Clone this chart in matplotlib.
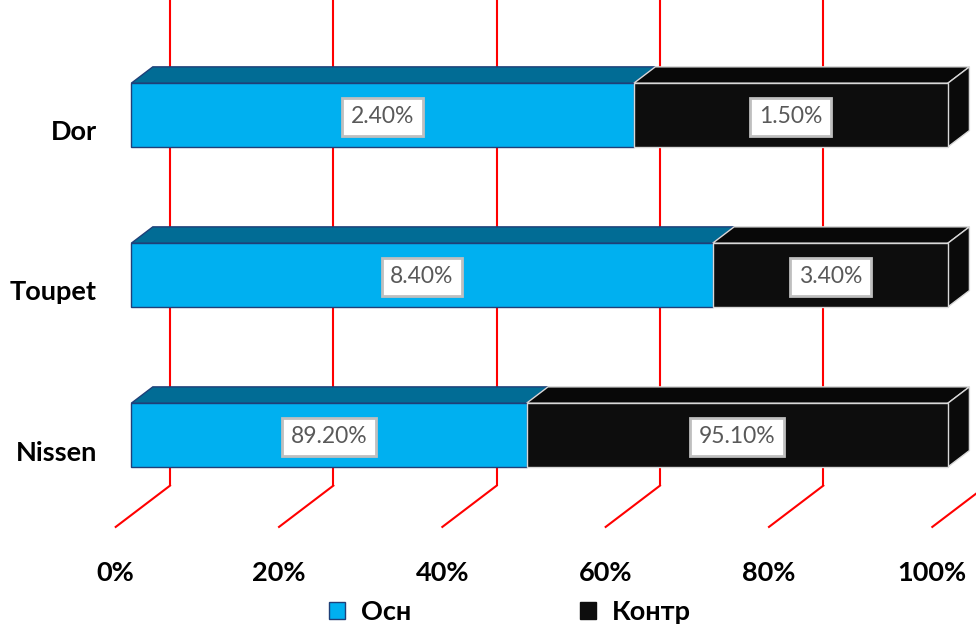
import matplotlib
matplotlib.use("Agg")
import matplotlib.pyplot as plt
from matplotlib.patches import Polygon, Rectangle, Patch

# Data
categories = ["Nissen", "Toupet", "Dor"]          # bottom to top
series_names = ["Осн", "Контр"]
osn_values = [89.2, 8.4, 2.4]
kontr_values = [95.1, 3.4, 1.5]
x_ticks = [0, 20, 40, 60, 80, 100]
x_tick_labels = ["0%", "20%", "40%", "60%", "80%", "100%"]

# Styling
FONT = ["Lato", "Noto Sans", "DejaVu Sans"]
front_colors = ["#00B0F0", "#0D0D0D"]
top_colors = ["#016C95", "#080808"]
side_colors = ["#04709A", "#0A0A0A"]
edge_colors = ["#1F3F78", "#D9D9D9"]
grid_color = "#FF0000"

# Oblique projection: full depth offset (x in %, y in category units)
DEPTH_DX, DEPTH_DY = 6.65, 0.258
BAR_D0, BAR_D1 = 0.287, 0.683          # bar front/back depth fraction
BAR_H = 0.398
FLOOR_Y = -0.5

fig = plt.figure(figsize=(9.76, 6.29), dpi=100)
ax = fig.add_axes([0, 0, 1, 1])
ax.set_xlim(-14.17, 105.35)
ax.set_ylim(-1.138, 2.793)
ax.set_axis_off()

# Back wall gridlines and floor diagonals
for p in x_ticks:
    bx, by = p + DEPTH_DX, FLOOR_Y + DEPTH_DY
    ax.plot([bx, bx], [by, 3.0], color=grid_color, lw=1.5, zorder=1,
            solid_capstyle="butt")
    ax.plot([p, bx], [FLOOR_Y, by], color=grid_color, lw=1.5, zorder=1)

x0d, y0d = BAR_D0 * DEPTH_DX, BAR_D0 * DEPTH_DY
x1d, y1d = BAR_D1 * DEPTH_DX, BAR_D1 * DEPTH_DY

for i, (cat, a, b) in enumerate(zip(categories, osn_values, kontr_values)):
    total = a + b
    shares = [a / total * 100, b / total * 100]
    labels = [f"{a:.2f}%", f"{b:.2f}%"]
    left = 0.0
    bot, top = i - BAR_H / 2, i + BAR_H / 2
    for s, (share, lab) in enumerate(zip(shares, labels)):
        right = left + share
        # top face
        ax.add_patch(Polygon(
            [(left + x0d, top + y0d), (right + x0d, top + y0d),
             (right + x1d, top + y1d), (left + x1d, top + y1d)],
            closed=True, facecolor=top_colors[s], edgecolor=edge_colors[s],
            lw=1.0, zorder=3 + s))
        # right side face (only for the outer segment)
        if s == len(shares) - 1:
            ax.add_patch(Polygon(
                [(right + x0d, bot + y0d), (right + x0d, top + y0d),
                 (right + x1d, top + y1d), (right + x1d, bot + y1d)],
                closed=True, facecolor=side_colors[s], edgecolor=edge_colors[s],
                lw=1.0, zorder=3 + s))
        # front face
        ax.add_patch(Rectangle((left + x0d, bot + y0d), share, BAR_H,
                               facecolor=front_colors[s], edgecolor=edge_colors[s],
                               lw=1.0, zorder=5 + s))
        ax.text(left + x0d + share / 2, i + y0d - 0.012, lab, ha="center",
                va="center", fontsize=16.5, color="#595959", family=FONT,
                zorder=10,
                bbox=dict(boxstyle="square,pad=0.38", facecolor="white",
                          edgecolor="#BFBFBF", lw=2.0))
        left = right
    ax.text(-2.3, i - 0.035, cat, ha="right", va="center", fontsize=19.5,
            fontweight="bold", family=FONT, color="black")

for p, t in zip(x_ticks, x_tick_labels):
    ax.text(p, -0.788, t, ha="center", va="center", fontsize=19.5,
            fontweight="bold", family=FONT, color="black")

handles = [Patch(facecolor=front_colors[0], edgecolor=edge_colors[0], lw=1.0),
           Patch(facecolor=front_colors[1], edgecolor=front_colors[1], lw=1.0)]
fig.legend(handles, series_names, loc="center", bbox_to_anchor=(0.5225, 0.027),
           ncol=2, frameon=False, columnspacing=6.2, handlelength=0.6,
           handleheight=0.6, handletextpad=0.6,
           prop=dict(family=FONT, weight="bold", size=19.5))

fig.savefig("out.png", dpi=100)
